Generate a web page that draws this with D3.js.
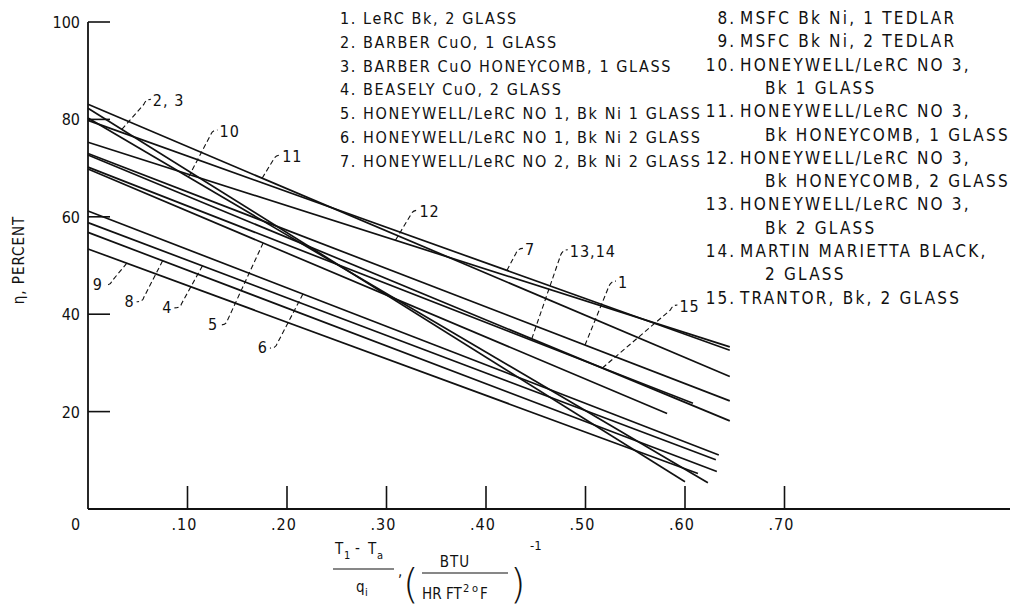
<!DOCTYPE html>
<html>
<head>
<meta charset="utf-8">
<script src="https://cdn.jsdelivr.net/npm/d3@7"></script>
<style>
  body { margin: 0; background: #fff; }
  text { font-family: "DejaVu Sans Condensed", "Liberation Sans Narrow", sans-serif; fill: #111; }
</style>
</head>
<body>
<script>
// curve labels, efficiency at x = 0, and where each curve stops
const curveIds = ["11", "7", "12", "2, 3", "10", "1", "13,14", "15", "5", "6", "4", "8", "9"];
const startEta = [83.1, 79.8, 75.3, 82.3, 80.3, 73.0, 72.7, 70.2, 69.8, 61.2, 58.8, 56.8, 53.4];
const endQ     = [0.645, 0.645, 0.645, 0.600, 0.623, 0.645, 0.645, 0.608, 0.582, 0.634, 0.631, 0.632, 0.613];
const endEta   = [27.2, 32.6, 33.3, 5.6, 5.4, 22.2, 18.1, 21.7, 19.6, 11.1, 10.1, 7.7, 7.3];

// where each label's leader meets its curve, and the label offset from there (px)
const leaderQ  = [0.175, 0.421, 0.309, 0.034, 0.101, 0.4995, 0.446, 0.517, 0.176, 0.216, 0.115, 0.075, 0.039];
const labelDx  = [20, 18, 24, 31, 31, 33, 38, 77, -45, -35, -30, -28, -24];
const labelDy  = [-16, -15, -23, -23, -40, -57, -82, -56, 87, 59, 47, 46, 27];

const xTicks = [0, 0.1, 0.2, 0.3, 0.4, 0.5, 0.6, 0.7];
const xTickLabels = ["0", ".10", ".20", ".30", ".40", ".50", ".60", ".70"];
const yTicks = [20, 40, 60, 80, 100];

const legendLeft = [
  "1. LeRC Bk, 2 GLASS",
  "2. BARBER CuO, 1 GLASS",
  "3. BARBER CuO HONEYCOMB, 1 GLASS",
  "4. BEASELY CuO, 2 GLASS",
  "5. HONEYWELL/LeRC NO 1, Bk Ni 1 GLASS",
  "6. HONEYWELL/LeRC NO 1, Bk Ni 2 GLASS",
  "7. HONEYWELL/LeRC NO 2, Bk Ni 2 GLASS"
];
const legendRight = [
  ["8.", "MSFC Bk Ni, 1 TEDLAR"],
  ["9.", "MSFC Bk Ni, 2 TEDLAR"],
  ["10.", "HONEYWELL/LeRC NO 3,"],
  ["", "Bk 1 GLASS"],
  ["11.", "HONEYWELL/LeRC NO 3,"],
  ["", "Bk HONEYCOMB, 1 GLASS"],
  ["12.", "HONEYWELL/LeRC NO 3,"],
  ["", "Bk HONEYCOMB, 2 GLASS"],
  ["13.", "HONEYWELL/LeRC NO 3,"],
  ["", "Bk 2 GLASS"],
  ["14.", "MARTIN MARIETTA BLACK,"],
  ["", "2 GLASS"],
  ["15.", "TRANTOR, Bk, 2 GLASS"]
];

const W = 1010, H = 610;
const x0 = 88, y0 = 509;

const svg = d3.select("body").append("svg")
    .attr("width", W)
    .attr("height", H);

const x = d3.scaleLinear().domain([0, 0.1]).range([x0, x0 + 99.5]);
const y = d3.scaleLinear().domain([0, 100]).range([y0, y0 - 487]);

// axes
svg.append("line")
    .attr("x1", x0).attr("x2", W)
    .attr("y1", y0).attr("y2", y0)
    .attr("stroke", "#111").attr("stroke-width", 2);
svg.append("line")
    .attr("x1", x0).attr("x2", x0)
    .attr("y1", y(100)).attr("y2", y0)
    .attr("stroke", "#111").attr("stroke-width", 1.8);

svg.selectAll(".xtick")
    .data(xTicks.slice(1))
    .enter().append("line")
    .attr("x1", d => x(d)).attr("x2", d => x(d))
    .attr("y1", y0).attr("y2", y0 - 23)
    .attr("stroke", "#111").attr("stroke-width", 1.6);

svg.selectAll(".xlab")
    .data(xTicks)
    .enter().append("text")
    .attr("x", (d, i) => i === 0 ? x(d) - 12 : x(d) - 3)
    .attr("y", 530)
    .attr("text-anchor", "middle")
    .style("font-size", "16px")
    .style("letter-spacing", "1px")
    .text((d, i) => xTickLabels[i]);

svg.selectAll(".ytick")
    .data(yTicks)
    .enter().append("line")
    .attr("x1", x0).attr("x2", x0 + 22)
    .attr("y1", d => y(d)).attr("y2", d => y(d))
    .attr("stroke", "#111").attr("stroke-width", 1.6);

svg.selectAll(".ylab")
    .data(yTicks)
    .enter().append("text")
    .attr("x", 80)
    .attr("y", d => y(d) + 6)
    .attr("text-anchor", "end")
    .style("font-size", "16px")
    .text(d => d);

svg.append("text")
    .attr("transform", "translate(24,260) rotate(-90)")
    .attr("text-anchor", "middle")
    .style("font-size", "15px")
    .style("letter-spacing", "1px")
    .text("\u03b7,  PERCENT");

// the curves
const lineGen = d3.line().x(d => x(d[0])).y(d => y(d[1]));
svg.selectAll(".curve")
    .data(curveIds)
    .enter().append("path")
    .attr("d", (d, i) => lineGen([[0, startEta[i]], [endQ[i], endEta[i]]]))
    .attr("fill", "none")
    .attr("stroke", "#111")
    .attr("stroke-width", 1.7);

// curve labels with dashed leaders
function etaAt(i, q) {
  return startEta[i] + (endEta[i] - startEta[i]) * q / endQ[i];
}

curveIds.forEach((id, i) => {
  const px = x(leaderQ[i]), py = y(etaAt(i, leaderQ[i]));
  const tx = px + labelDx[i], ty = py + labelDy[i];
  const up = labelDy[i] < 0 && labelDx[i] > 0;
  let d;
  if (up) {
    d = `M${px},${py} L${tx - 9},${ty - 2} Q${tx - 7},${ty - 7} ${tx - 2},${ty - 7}`;
  } else {
    d = `M${px},${py} L${tx + 9},${ty - 9} Q${tx + 8},${ty - 5} ${tx + 2},${ty - 5}`;
  }
  svg.append("path")
      .attr("d", d)
      .attr("fill", "none").attr("stroke", "#111")
      .attr("stroke-width", 1.1).attr("stroke-dasharray", "5,3");
  svg.append("text")
      .attr("x", tx).attr("y", ty)
      .attr("text-anchor", up ? "start" : "end")
      .style("font-size", "16px")
      .style("letter-spacing", "1px")
      .text(id);
});

// legend
svg.selectAll(".legL")
    .data(legendLeft)
    .enter().append("text")
    .attr("x", 340)
    .attr("y", (d, i) => 24 + i * 23.8)
    .style("font-size", "16px")
    .style("letter-spacing", "1.6px")
    .text(d => d);

const legR = svg.selectAll(".legR")
    .data(legendRight)
    .enter().append("g")
    .attr("transform", (d, i) => `translate(0,${24 + i * 23.3})`);
legR.append("text")
    .attr("x", 736)
    .attr("text-anchor", "end")
    .style("font-size", "17px")
    .style("letter-spacing", "2px")
    .text(d => d[0]);
legR.append("text")
    .attr("x", d => d[0] ? 740 : 765)
    .style("font-size", "17px")
    .style("letter-spacing", "2.2px")
    .text(d => d[1]);

// x axis title
const t = svg.append("g").style("font-size", "15px");
t.append("text").attr("x", 335).attr("y", 554).text("T");
t.append("text").attr("x", 344).attr("y", 559).style("font-size", "11px").text("1");
t.append("text").attr("x", 355).attr("y", 553).text("-");
t.append("text").attr("x", 368).attr("y", 554).text("T");
t.append("text").attr("x", 377).attr("y", 559).style("font-size", "11px").text("a");
t.append("line").attr("x1", 333).attr("x2", 394).attr("y1", 569).attr("y2", 569).attr("stroke", "#111").attr("stroke-width", 1.2);
t.append("text").attr("x", 356).attr("y", 592).text("q");
t.append("text").attr("x", 365).attr("y", 596).style("font-size", "11px").text("i");
t.append("text").attr("x", 398).attr("y", 576).text(",");
t.append("text").attr("x", 403).attr("y", 598)
    .style("font-family", "'DejaVu Sans'").style("font-weight", "200")
    .style("font-size", "40px").text("(");
t.append("text").attr("x", 455).attr("y", 567).attr("text-anchor", "middle").style("letter-spacing", "1px").text("BTU");
t.append("line").attr("x1", 422).attr("x2", 508).attr("y1", 573).attr("y2", 573).attr("stroke", "#111").attr("stroke-width", 1.2);
t.append("text").attr("x", 422).attr("y", 599).text("HR");
t.append("text").attr("x", 446).attr("y", 599).text("FT");
t.append("text").attr("x", 463).attr("y", 592).style("font-size", "11px").text("2");
t.append("text").attr("x", 472).attr("y", 592).style("font-size", "11px").text("o");
t.append("text").attr("x", 480).attr("y", 599).text("F");
t.append("text").attr("x", 510).attr("y", 598)
    .style("font-family", "'DejaVu Sans'").style("font-weight", "200")
    .style("font-size", "40px").text(")");
t.append("text").attr("x", 530).attr("y", 550).style("font-size", "13px").text("-1");
</script>
</body>
</html>
